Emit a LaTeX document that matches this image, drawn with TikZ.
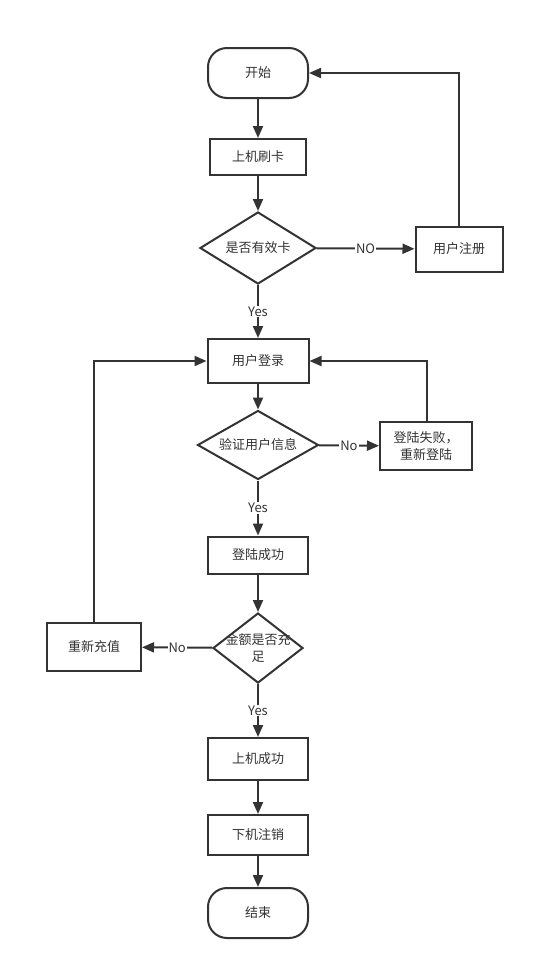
\documentclass[tikz,border=0pt]{standalone}
\usepackage{fontspec}
\setmainfont{Noto Sans CJK SC}
\usetikzlibrary{shapes.geometric,arrows.meta}
\definecolor{ink}{HTML}{333333}
\tikzset{
  box/.style={draw=ink, line width=2pt, rectangle, inner sep=0pt, text=ink, font=\fontsize{13}{17}\selectfont, align=center},
  term/.style={box, rounded corners=19pt},
  dia/.style={draw=ink, line width=2pt, diamond, inner sep=0pt, text=ink, font=\fontsize{13}{17}\selectfont},
  arr/.style={draw=ink, line width=2pt, -{Triangle[length=12pt,width=10pt]}},
  lbl/.style={fill=white, inner sep=1pt, text=ink, font=\fontsize{13}{15}\selectfont},
}
\begin{document}
\begin{tikzpicture}[x=1pt,y=-1pt]
\useasboundingbox (0,0) rectangle (535,970);
\fill[white] (0,0) rectangle (535,970);

\node[term, minimum width=100pt, minimum height=50pt] (start) at (258,73) {开始};
\node[box, minimum width=96pt, minimum height=36pt] (card) at (258,157) {上机刷卡};
\node[dia, minimum width=116pt, minimum height=72pt, label={[text=ink,font=\fontsize{13}{17}\selectfont]center:是否有效卡}] (d1) at (258,248) {};
\node[box, minimum width=87pt, minimum height=45pt] (reg) at (459,249) {用户注册};
\node[box, minimum width=101pt, minimum height=44pt] (login) at (258,361) {用户登录};
\node[dia, minimum width=121pt, minimum height=69pt, label={[text=ink,font=\fontsize{13}{17}\selectfont]center:验证用户信息}] (d2) at (258,445) {};
\node[box, minimum width=92pt, minimum height=48pt] (fail) at (426,446) {登陆失败，\\重新登陆};
\node[box, minimum width=100pt, minimum height=37pt] (succ) at (258,555) {登陆成功};
\node[dia, minimum width=90pt, minimum height=70pt, label={[text=ink,font=\fontsize{13}{17}\selectfont,align=center]center:金额是否充\\足}] (d3) at (258,648) {};
\node[box, minimum width=94pt, minimum height=48pt] (rech) at (94,647) {重新充值};
\node[box, minimum width=100pt, minimum height=42pt] (up) at (258,759) {上机成功};
\node[box, minimum width=100pt, minimum height=40pt] (down) at (258,835) {下机注销};
\node[term, minimum width=100pt, minimum height=50pt] (end) at (258,913) {结束};

\draw[arr] (start) -- (card);
\draw[arr] (card) -- (d1);
\draw[arr] (d1) -- node[lbl]{NO} (reg);
\draw[arr] (reg.north) |- (start.east);
\draw[arr] (d1) -- node[lbl]{Yes} (login);
\draw[arr] (login) -- (d2);
\draw[arr] (d2) -- node[lbl]{No} (fail);
\draw[arr] ([xshift=1pt]fail.north) |- (login.east);
\draw[arr] (d2) -- node[lbl]{Yes} (succ);
\draw[arr] (succ) -- (d3);
\draw[arr] (d3) -- node[lbl]{No} (rech);
\draw[arr] (rech.north) |- (login.west);
\draw[arr] (d3) -- node[lbl]{Yes} (up);
\draw[arr] (up) -- (down);
\draw[arr] (down) -- (end);
\end{tikzpicture}
\end{document}
